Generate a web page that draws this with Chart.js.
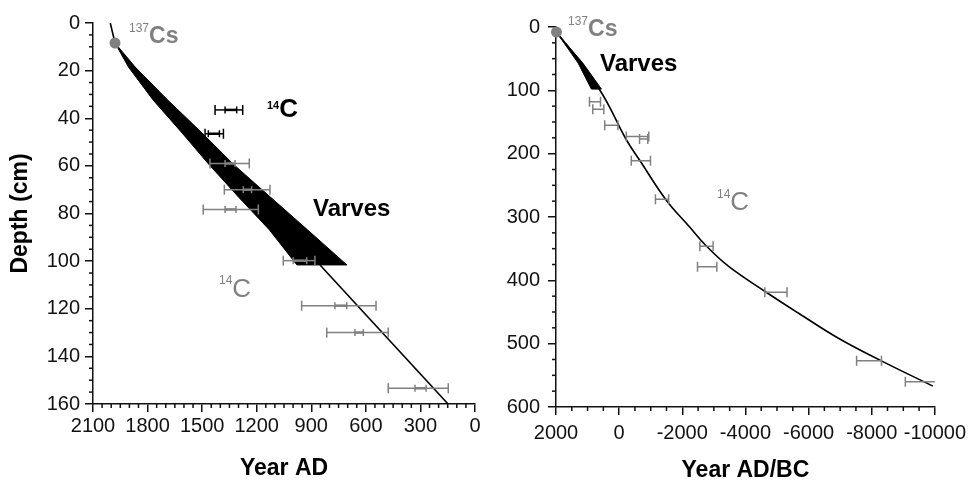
<!DOCTYPE html>
<html>
<head>
<meta charset="utf-8">
<script src="https://cdn.jsdelivr.net/npm/chart.js@4.4.1/dist/chart.umd.min.js"></script>
<style>
  html, body { margin: 0; padding: 0; background: #fff; }
  #wrap { position: relative; width: 972px; height: 482px; overflow: hidden; }
  canvas { position: absolute; top: 0; }
  #left { left: 0; }
  #right { left: 490px; }
  .lbl { position: absolute; font-family: 'Liberation Sans', Arial, sans-serif; line-height: 1; white-space: nowrap; }
  .lbl sup { position: relative; vertical-align: baseline; line-height: 1; }
  .grey { color: #808080; }
  .black { color: #000; }
</style>
</head>
<body>
<div id="wrap">
  <canvas id="left" width="490" height="482"></canvas>
  <canvas id="right" width="482" height="482"></canvas>

  <div class="lbl grey" style="left:129px;top:23.5px;font-size:23px;font-weight:bold"><sup style="font-size:12px;top:-11px;font-weight:normal">137</sup>Cs</div>
  <div class="lbl black" style="left:267px;top:95px;font-size:26px;font-weight:bold"><sup style="font-size:11px;top:-8px">14</sup>C</div>
  <div class="lbl black" style="left:313px;top:196.4px;font-size:24px;font-weight:bold">Varves</div>
  <div class="lbl grey" style="left:219px;top:275px;font-size:26px"><sup style="font-size:12px;top:-13px">14</sup>C</div>

  <div class="lbl grey" style="left:568px;top:17.2px;font-size:23px;font-weight:bold"><sup style="font-size:12px;top:-11.4px;font-weight:normal">137</sup>Cs</div>
  <div class="lbl black" style="left:600px;top:51.4px;font-size:24px;font-weight:bold">Varves</div>
  <div class="lbl grey" style="left:717px;top:188px;font-size:26px"><sup style="font-size:12px;top:-12px">14</sup>C</div>
</div>

<script>
// --- DATA : left core (0-160 cm, Year AD) ---
const varveDepth = [8.4, 18.5, 32.3, 46.2, 59.2, 73.1, 86.9, 101.6];
const varveYoung = [1979, 1905, 1770, 1610, 1465, 1300, 1130, 979];
const varveOld   = [1979, 1868, 1690, 1500, 1330, 1125, 920, 704];

const topLineYear  = [2005, 1979];
const topLineDepth = [0, 8.4];
const lowLineYear  = [852, 148];
const lowLineDepth = [101.6, 160];

const csYearL = [1979];
const csDepthL = [8.4];

// 14C dates, black (two upper samples)
const blackDepth = [36.5, 46.5];
const blackMin   = [1277, 1383];
const blackMax   = [1429, 1484];
const blackInMin = [1310, 1405];
const blackInMax = [1374, 1466];

// 14C dates, grey
const greyDepth = [59, 70, 78.3, 99.8, 118.7, 130, 153.4];
const greyMin   = [1241, 1127, 1191, 880, 544, 477, 147];
const greyMax   = [1457, 1378, 1494, 1054, 953, 815, 477];
const greyInMin = [1319, 1228, 1314, 925, 705, 614, 269];
const greyInMax = [1374, 1274, 1374, 999, 770, 660, 330];

// --- DATA : right core (0-600, Year AD/BC) ---
const curveYear  = [1985, 614, -227, -646, -1487, -2220, -2746, -3480, -4635, -5685, -6945, -8258, -9937];
const curveDepth = [8, 99.5, 178, 210, 273, 315, 345, 378.5, 418, 452, 491.5, 526, 567];

const wedgeDepth = [8, 57, 98];
const wedgeYoung = [1985, 1300, 880];
const wedgeOld   = [1985, 1150, 561];

const csYearR = [1985];
const csDepthR = [8];

const rDepth = [118, 130, 155, 173, 177, 211, 272, 346, 378.5, 419, 527, 560];
const rMin   = [590, 485, 38, -938, -907, -992, -1569, -2976, -3093, -5317, -8309, -10252];
const rMax   = [940, 835, 457, -227, -646, -384, -1150, -2557, -2482, -4614, -7521, -9065];

// --- HELPERS ---
const FONT = "'Liberation Sans', Arial, Helvetica, sans-serif";
const GREY = '#808080';
const INK = '#111';

function pts(xs, ys) {
    return xs.map((x, i) => ({x: x, y: ys[i]}));
}

function bandShape(depth, young, old) {
    const p = pts(young, depth);
    for (let i = depth.length - 1; i >= 0; i--) p.push({x: old[i], y: depth[i]});
    return p;
}

function lineSet(data, tension) {
    return {
        data: data, showLine: true, borderColor: '#000', borderWidth: 1.6,
        pointRadius: 0, tension: tension || 0, fill: false, order: 2
    };
}

function errorBars(depth, min, max, color, width, capR) {
    return depth.map((d, i) => ({
        data: [{x: min[i], y: d}, {x: max[i], y: d}],
        showLine: true, borderColor: color, borderWidth: width,
        pointStyle: 'line', pointRotation: 90, pointRadius: capR,
        pointBorderColor: color, pointBorderWidth: 1.5,
        pointHoverRadius: capR, fill: false, order: 1
    }));
}

function dot(xs, ys) {
    return {
        data: pts(xs, ys), pointRadius: 5.5, pointBackgroundColor: GREY,
        pointBorderWidth: 0, showLine: false, clip: false, order: 0
    };
}

// minor ticks drawn through the scales
function minorTicks(list) {
    return {
        id: 'minorTicks',
        afterDraw(chart) {
            const ctx = chart.ctx;
            ctx.save();
            ctx.strokeStyle = INK;
            ctx.lineWidth = 1.5;
            list.forEach(a => {
                const s = chart.scales[a.id];
                for (let v = s.min; v <= s.max; v += a.step) {
                    if (v % a.major === 0) continue;
                    const p = s.getPixelForValue(v);
                    ctx.beginPath();
                    if (s.isHorizontal()) { ctx.moveTo(p, s.top); ctx.lineTo(p, s.top + 4); }
                    else { ctx.moveTo(s.right, p); ctx.lineTo(s.right - 4, p); }
                    ctx.stroke();
                }
            });
            ctx.restore();
        }
    };
}

function axis(min, max, step, pad, size, title, titlePad) {
    return {
        type: 'linear', min: min, max: max, reverse: true,
        ticks: {
            stepSize: step, padding: pad, color: INK, autoSkip: false,
            maxRotation: 0, minRotation: 0,
            font: {family: FONT, size: 20}, callback: v => String(v)
        },
        grid: { drawOnChartArea: false, drawTicks: true, tickLength: 8, tickColor: INK, tickWidth: 1.5, lineWidth: 1.5 },
        border: { display: true, color: INK, width: 1.5 },
        title: {
            display: !!title, text: title || '', color: '#000',
            font: {family: FONT, size: 23, weight: 'bold', lineHeight: 1},
            padding: titlePad || 0
        },
        afterFit: size
    };
}

function baseOptions(padding, x, y) {
    return {
        responsive: false, animation: false, events: [],
        layout: { padding: padding },
        plugins: { legend: { display: false }, tooltip: { enabled: false } },
        scales: { x: x, y: y }
    };
}

// --- LEFT CHART ---
new Chart(document.getElementById('left'), {
    type: 'scatter',
    data: {
        datasets: [
            dot(csYearL, csDepthL),
            ...errorBars(blackDepth, blackMin, blackMax, '#000', 1.5, 5),
            ...errorBars(blackDepth, blackInMin, blackInMax, '#000', 2.5, 3.5),
            ...errorBars(greyDepth, greyMin, greyMax, GREY, 1.5, 5),
            ...errorBars(greyDepth, greyInMin, greyInMax, GREY, 2.5, 3.5),
            lineSet(pts(topLineYear, topLineDepth)),
            lineSet(pts(lowLineYear, lowLineDepth)),
            {
                data: bandShape(varveDepth, varveYoung, varveOld), showLine: true,
                borderColor: '#000', borderWidth: 1, backgroundColor: '#000',
                pointRadius: 0, tension: 0, fill: 'shape', order: 3
            }
        ]
    },
    options: baseOptions({left: 0, top: 23, right: 15, bottom: 0},
        axis(0, 2100, 300, 2, s => { s.height = 78; }, 'Year AD', {top: 0, bottom: 1.5}),
        axis(0, 160, 20, 5, s => { s.width = 93; }, 'Depth (cm)', {top: 9.5, bottom: 0})),
    plugins: [minorTicks([{id: 'x', step: 50, major: 300}, {id: 'y', step: 5, major: 20}])]
});

// --- RIGHT CHART ---
new Chart(document.getElementById('right'), {
    type: 'scatter',
    data: {
        datasets: [
            dot(csYearR, csDepthR),
            ...errorBars(rDepth, rMin, rMax, GREY, 1.5, 5),
            lineSet(pts(curveYear, curveDepth), 0.4),
            {
                data: bandShape(wedgeDepth, wedgeYoung, wedgeOld), showLine: true,
                borderColor: '#000', borderWidth: 1, backgroundColor: '#000',
                pointRadius: 0, tension: 0, fill: 'shape', order: 3
            }
        ]
    },
    options: baseOptions({left: 0, top: 27, right: 35, bottom: 0},
        axis(-10000, 2000, 2000, 6, s => { s.height = 75; }, 'Year AD/BC', {top: 0, bottom: 0}),
        axis(0, 600, 100, 8, s => { s.width = 66; }, null)),
    plugins: [minorTicks([{id: 'x', step: 500, major: 2000}, {id: 'y', step: 25, major: 100}])]
});
</script>
</body>
</html>
